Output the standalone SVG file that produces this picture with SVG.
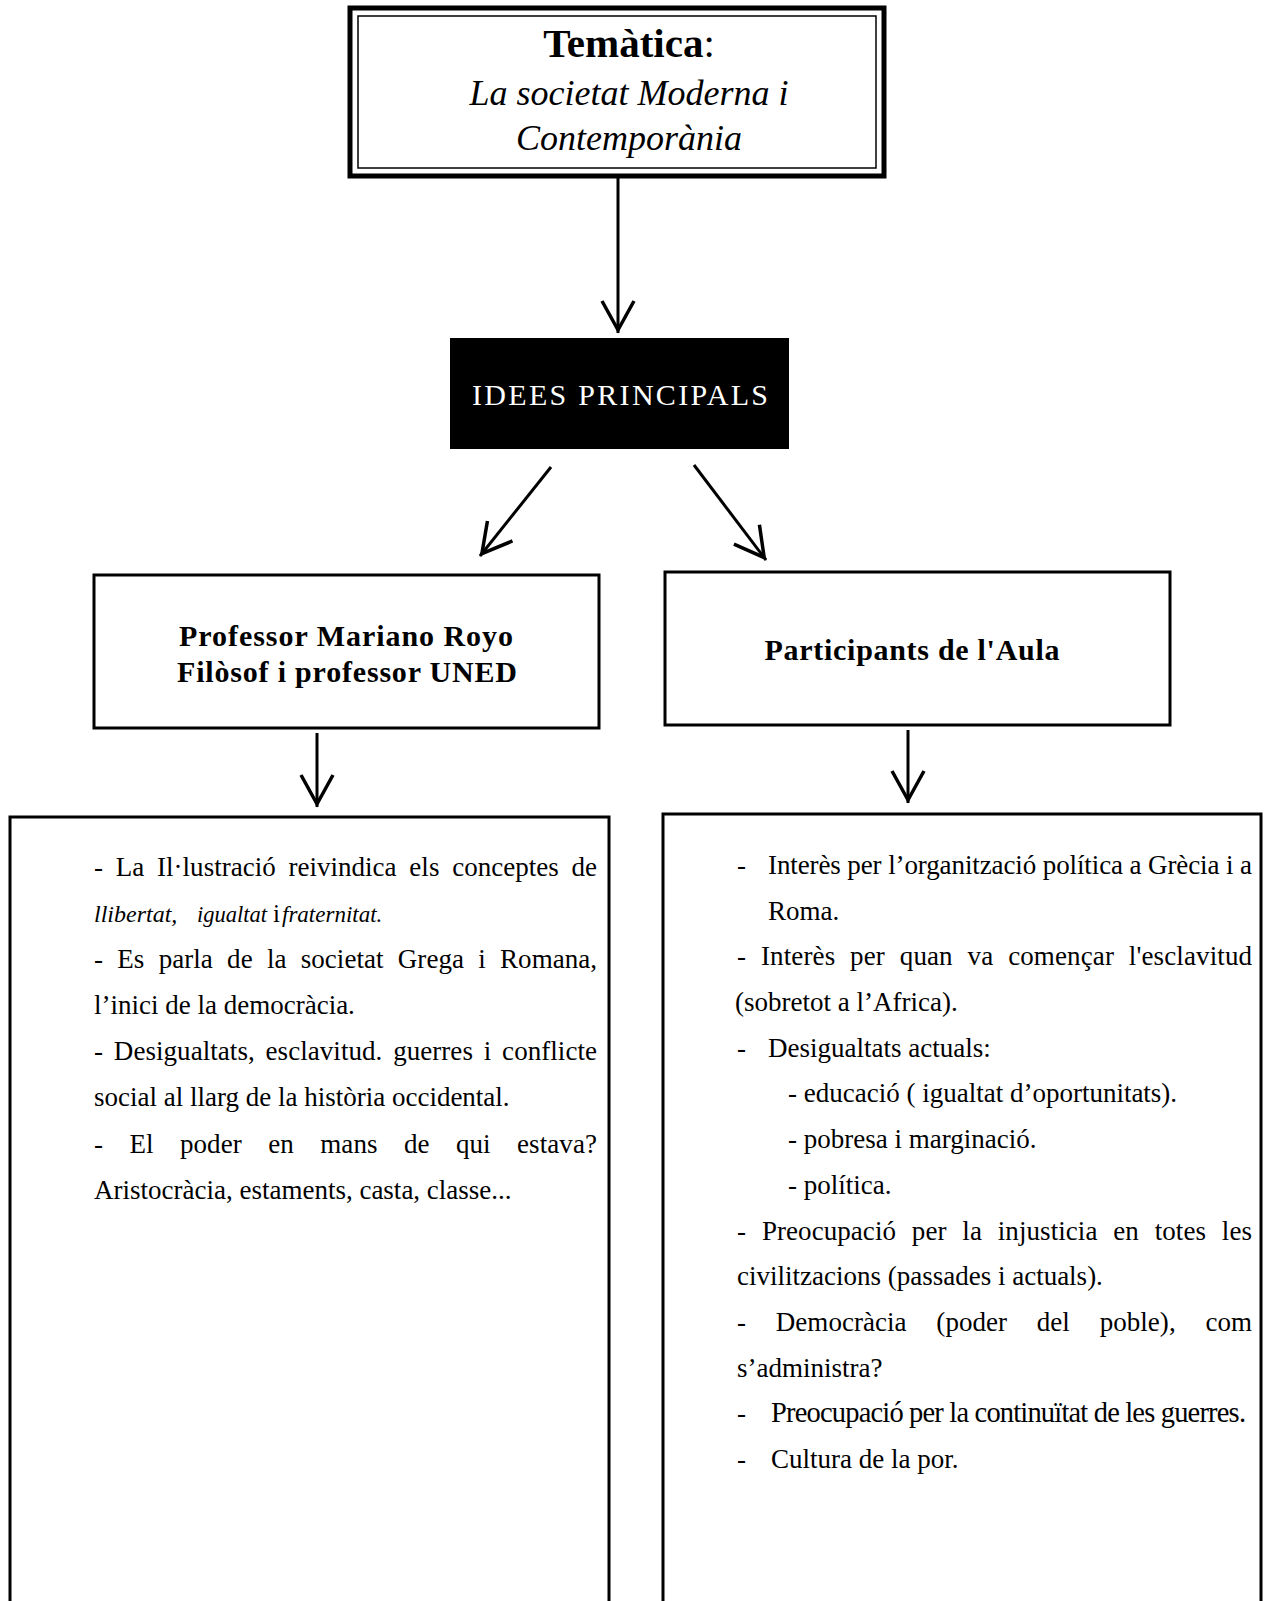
<svg xmlns="http://www.w3.org/2000/svg" width="1268" height="1601" viewBox="0 0 1268 1601">
<style>
.box{fill:#fff;stroke:#000;stroke-width:3}
.t{font-family:"Liberation Serif","Times New Roman",serif;fill:#000}
.b{font-size:27px}
.it{font-style:italic}
.hd{font-weight:bold;font-size:30px}
.con{stroke:#000;stroke-width:3;fill:none}
</style>
<defs>
<marker id="ah" markerUnits="userSpaceOnUse" markerWidth="44" markerHeight="44" viewBox="0 0 44 44" refX="37" refY="20" orient="auto" overflow="visible">
<path d="M5,4 L34,20 L5,36" fill="none" stroke="#000" stroke-width="3.5"/>
</marker>
</defs>
<rect width="1268" height="1601" fill="#fff"/>

<g id="connectors">
<line class="con" x1="618" y1="176" x2="618" y2="333" marker-end="url(#ah)"/>
<line class="con" x1="551" y1="467" x2="480" y2="556" marker-end="url(#ah)"/>
<line class="con" x1="694" y1="465" x2="766" y2="560" marker-end="url(#ah)"/>
<line class="con" x1="317" y1="733" x2="317" y2="807" marker-end="url(#ah)"/>
<line class="con" x1="908" y1="730" x2="908" y2="803" marker-end="url(#ah)"/>
</g>

<g id="tematica">
<rect x="350" y="8" width="534" height="168" fill="#fff" stroke="#000" stroke-width="5"/>
<rect x="358" y="16" width="518" height="152" fill="none" stroke="#000" stroke-width="1.5"/>
<text class="t" x="629" y="57" text-anchor="middle" font-size="41"><tspan font-weight="bold">Temàtica</tspan>:</text>
<text class="t it" x="629" y="105" text-anchor="middle" font-size="36">La societat Moderna i</text>
<text class="t it" x="629" y="150" text-anchor="middle" font-size="36">Contemporània</text>
</g>

<g id="idees">
<rect x="450" y="338" width="339" height="111" fill="#000"/>
<text class="t" x="620" y="405" text-anchor="middle" font-size="30" style="fill:#fff" textLength="296" lengthAdjust="spacing">IDEES PRINCIPALS</text>
</g>

<g id="professor">
<rect class="box" x="94" y="575" width="505" height="153"/>
<text class="t hd" x="346" y="646" text-anchor="middle" textLength="334" lengthAdjust="spacing">Professor Mariano Royo</text>
<text class="t hd" x="347" y="682" text-anchor="middle" textLength="340" lengthAdjust="spacing">Filòsof i professor UNED</text>
</g>

<g id="participants">
<rect class="box" x="665" y="572" width="505" height="153"/>
<text class="t hd" x="912" y="660" text-anchor="middle" textLength="295" lengthAdjust="spacing">Participants de l'Aula</text>
</g>

<g id="idees-professor">
<rect class="box" x="10" y="817" width="599" height="800"/>
<text class="t b" x="94" y="876" word-spacing="6" textLength="503" lengthAdjust="spacing">- La Il·lustració reivindica els conceptes de</text>
<text class="t b" y="922"><tspan class="it" x="94" font-size="24">llibertat,</tspan><tspan class="it" x="197" font-size="22.5">igualtat</tspan><tspan x="273" font-size="25">i</tspan><tspan class="it" x="282" font-size="23">fraternitat.</tspan></text>
<text class="t b" x="94" y="968" word-spacing="7.5" textLength="503" lengthAdjust="spacing">- Es parla de la societat Grega i Romana,</text>
<text class="t b" x="94" y="1014">l’inici de la democràcia.</text>
<text class="t b" x="94" y="1060" word-spacing="4" textLength="503" lengthAdjust="spacing">- Desigualtats, esclavitud. guerres i conflicte</text>
<text class="t b" x="94" y="1106">social al llarg de la història occidental.</text>
<text class="t b" x="94" y="1153" word-spacing="19.5" textLength="503" lengthAdjust="spacing">- El poder en mans de qui estava?</text>
<text class="t b" x="94" y="1199">Aristocràcia, estaments, casta, classe...</text>
</g>

<g id="idees-participants">
<rect class="box" x="663" y="814" width="598" height="800"/>
<text class="t b" x="737" y="874">-</text>
<text class="t b" x="768" y="874" textLength="484" lengthAdjust="spacing">Interès per l’organització política a Grècia i a</text>
<text class="t b" x="768" y="920">Roma.</text>
<text class="t b" x="737" y="965" word-spacing="8" textLength="515" lengthAdjust="spacing">- Interès per quan va començar l'esclavitud</text>
<text class="t b" x="735" y="1011">(sobretot a l’Africa).</text>
<text class="t b" x="737" y="1057">-</text>
<text class="t b" x="768" y="1057">Desigualtats actuals:</text>
<text class="t b" x="788" y="1102">- educació ( igualtat d’oportunitats).</text>
<text class="t b" x="788" y="1148">- pobresa i marginació.</text>
<text class="t b" x="788" y="1194">- política.</text>
<text class="t b" x="737" y="1240" word-spacing="9" textLength="515" lengthAdjust="spacing">- Preocupació per la injusticia en totes les</text>
<text class="t b" x="737" y="1285">civilitzacions (passades i actuals).</text>
<text class="t b" x="737" y="1331" word-spacing="23" textLength="515" lengthAdjust="spacing">- Democràcia (poder del poble), com</text>
<text class="t b" x="737" y="1377">s’administra?</text>
<text class="t b" x="737" y="1422">-</text>
<text class="t" x="771" y="1422" font-size="28.5" textLength="475" lengthAdjust="spacing">Preocupació per la continuïtat de les guerres.</text>
<text class="t b" x="737" y="1468">-</text>
<text class="t b" x="771" y="1468">Cultura de la por.</text>
</g>
</svg>
